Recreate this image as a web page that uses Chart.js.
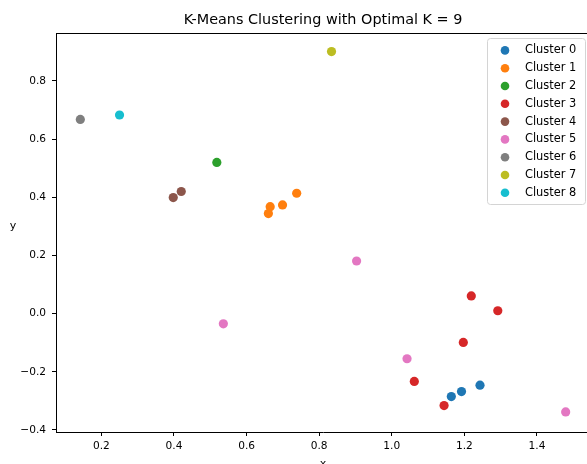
<!DOCTYPE html>
<html>
<head>
<meta charset="utf-8">
<title>K-Means Clustering</title>
<script src="https://cdn.jsdelivr.net/npm/chart.js@4.4.1/dist/chart.umd.min.js"></script>
<style>
html, body { margin: 0; padding: 0; background: #fff; overflow: hidden; }
canvas { display: block; }
</style>
</head>
<body>
<canvas id="kmeansChart" width="600" height="472"></canvas>
<script>
// data
var clusterLabels = ['Cluster 0', 'Cluster 1', 'Cluster 2', 'Cluster 3', 'Cluster 4',
                     'Cluster 5', 'Cluster 6', 'Cluster 7', 'Cluster 8'];
var clusterX = [
  [1.164, 1.192, 1.243],
  [0.660, 0.665, 0.699, 0.738],
  [0.518],
  [1.219, 1.292, 1.197, 1.062, 1.144],
  [0.398, 0.420],
  [0.903, 0.536, 1.042, 1.479],
  [0.142],
  [0.834],
  [0.250]
];
var clusterY = [
  [-0.285, -0.268, -0.246],
  [0.344, 0.368, 0.374, 0.414],
  [0.520],
  [0.061, 0.010, -0.099, -0.233, -0.316],
  [0.399, 0.420],
  [0.181, -0.035, -0.155, -0.338],
  [0.668],
  [0.901],
  [0.683]
];
var xTicks = [0.2, 0.4, 0.6, 0.8, 1.0, 1.2, 1.4];
var yTicks = [-0.4, -0.2, 0.0, 0.2, 0.4, 0.6, 0.8];

var clusterColors = ['#1f77b4', '#ff7f0e', '#2ca02c', '#d62728', '#8c564b',
                     '#e377c2', '#7f7f7f', '#bcbd22', '#17becf'];

Chart.defaults.font.family = '"DejaVu Sans", sans-serif';
Chart.defaults.color = '#000';

function fmtTick(v) {
  if (Math.abs(v) < 1e-9) v = 0;
  return v.toFixed(1).replace('-', '\u2212');
}

var datasets = [];
for (var i = 0; i < clusterLabels.length; i++) {
  var pts = [];
  for (var j = 0; j < clusterX[i].length; j++) {
    pts.push({x: clusterX[i][j], y: clusterY[i][j]});
  }
  datasets.push({
    label: clusterLabels[i],
    data: pts,
    backgroundColor: clusterColors[i],
    borderColor: clusterColors[i],
    borderWidth: 0,
    pointRadius: 4.6,
    pointHoverRadius: 4.6
  });
}

// top/right spines, legend inside the axes, upright y label
var extrasPlugin = {
  id: 'extras',
  afterDraw: function(chart) {
    var ctx = chart.ctx;
    var a = chart.chartArea;
    ctx.save();

    ctx.strokeStyle = '#000';
    ctx.lineWidth = 1;
    ctx.beginPath();
    ctx.moveTo(a.left, Math.round(a.top) + 0.5);
    ctx.lineTo(a.right, Math.round(a.top) + 0.5);
    ctx.lineTo(a.right, a.bottom);
    ctx.stroke();

    // legend
    var boxW = 98, boxH = 166, rowH = 17.8;
    var left = a.right - 5 - boxW, top = a.top + 5;
    ctx.fillStyle = 'rgba(255,255,255,0.8)';
    ctx.strokeStyle = '#d4d4d4';
    ctx.beginPath();
    ctx.roundRect(left + 0.5, top + 0.5, boxW, boxH, 3);
    ctx.fill();
    ctx.stroke();

    ctx.font = '11.4px "DejaVu Sans"';
    ctx.textBaseline = 'middle';
    ctx.textAlign = 'left';
    chart.data.datasets.forEach(function(ds, k) {
      var cy = top + 12.4 + k * rowH;
      ctx.fillStyle = ds.backgroundColor;
      ctx.beginPath();
      ctx.arc(left + 18, cy, 4.3, 0, Math.PI * 2);
      ctx.fill();
      ctx.fillStyle = '#000';
      ctx.fillText(ds.label, left + 38, cy);
    });

    // y label, not rotated
    ctx.font = '11px "DejaVu Sans"';
    ctx.textAlign = 'center';
    ctx.fillText('y', 13, 226);
    ctx.restore();
  }
};

var ctx = document.getElementById('kmeansChart');
var chart = new Chart(ctx, {
  type: 'scatter',
  data: { datasets: datasets },
  options: {
    responsive: false,
    animation: false,
    devicePixelRatio: 1,
    layout: { padding: { left: 0, right: 10, top: 0, bottom: 0 } },
    plugins: {
      legend: { display: false },
      tooltip: { enabled: false },
      title: {
        display: true,
        text: 'K-Means Clustering with Optimal K = 9',
        fullSize: false,
        color: '#000',
        font: { size: 14.4, weight: 'normal', lineHeight: 1 },
        padding: { top: 13, bottom: 5.6 }
      }
    },
    scales: {
      x: {
        type: 'linear',
        min: 0.075,
        max: 1.546,
        afterBuildTicks: function(scale) {
          scale.ticks = xTicks.map(function(v) { return {value: v}; });
        },
        afterFit: function(scale) { scale.height = 40; },
        ticks: { padding: 4, font: { size: 10.6 }, color: '#000', maxRotation: 0,
                 callback: function(v) { return fmtTick(v); } },
        grid: { drawOnChartArea: false, drawTicks: true, tickLength: 4, color: '#000' },
        border: { display: true, color: '#000', width: 1 },
        title: { display: true, text: 'x', color: '#000', font: { size: 11 },
                 padding: { top: 0, bottom: 1 } }
      },
      y: {
        type: 'linear',
        min: -0.4069,
        max: 0.965,
        afterBuildTicks: function(scale) {
          scale.ticks = yTicks.map(function(v) { return {value: v}; });
        },
        afterFit: function(scale) { scale.width = 56; },
        ticks: { padding: 6, font: { size: 10.6 }, color: '#000',
                 callback: function(v) { return fmtTick(v); } },
        grid: { drawOnChartArea: false, drawTicks: true, tickLength: 4, color: '#000' },
        border: { display: true, color: '#000', width: 1 },
        title: { display: false }
      }
    }
  },
  plugins: [extrasPlugin]
});
</script>
</body>
</html>
